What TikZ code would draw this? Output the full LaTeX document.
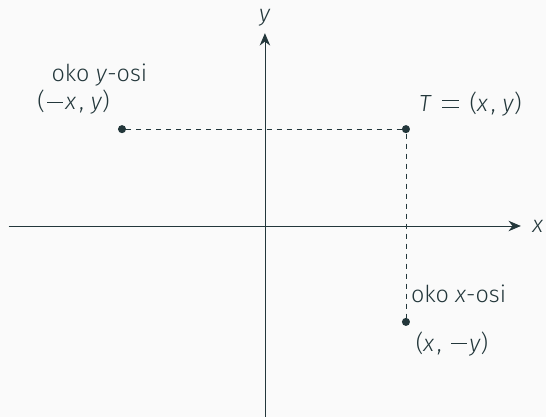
\documentclass[tikz,border=0pt]{standalone}
\usepackage{fontspec}
\setmainfont{Fira Sans Light}[ItalicFont={Fira Sans Light Italic}]
\usetikzlibrary{positioning,arrows.meta}
\definecolor{slate}{RGB}{35,55,59}
\definecolor{paper}{RGB}{250,250,250}
\newcommand{\vr}[1]{\textit{#1}}
\newcommand{\mn}{\kern0.1em\rule[0.3em]{0.68em}{0.045em}\kern0.1em}
\newcommand{\eqs}{\kern0.45em\rlap{\rule[0.13em]{0.72em}{0.045em}}\rule[0.42em]{0.72em}{0.045em}\kern0.45em}
\newcommand{\cm}{\kern0.12em,\kern0.3em}

\begin{document}
\begin{tikzpicture}[font=\fontsize{14}{16}\selectfont,color=slate,
  ax/.style={-{Stealth[length=2.6mm,width=2.2mm]},line width=0.5pt},
  pt/.style={circle,fill=slate,inner sep=0pt,minimum size=1.7mm},
  lab/.style={inner sep=1pt}]
  \fill[paper](-5.58,-4.02) rectangle (5.92,4.76);
  \useasboundingbox (-5.58,-4.02) rectangle (5.92,4.76);
  % axes
  \coordinate (xs) at (-5.4,0); \coordinate (xe) at (5.39,0);
  \coordinate (ys) at (0,-4.1); \coordinate (ye) at (0,4.06);
  \draw[ax](xs)--(xe); \draw[ax](ys)--(ye);
  \node[lab,right=0.2 of xe](xl){\vr{x}};
  \node[lab,above=0.1 of ye](yl){\vr{y}};
  % points
  \node[pt](T) at (2.97,2.04){};
  \node[pt](A) at (-3.01,2.04){};
  \node[pt](B) at (2.97,-2.02){};
  \draw[dashed](A)--(T)--(B);
  \node[lab,above right=0.17 and 0.17 of T](tl){\vr{T}\eqs(\vr{x}\cm\vr{y})};
  \node[lab,above left=0.2 and 0.15 of A](al){(\mn\vr{x}\cm\vr{y})};
  \node[lab,anchor=south west](ay) at ([xshift=0.3cm]al.north west){oko \vr{y}-osi};
  \node[lab,above right=0.3 and 0.0 of B](bx){oko \vr{x}-osi};
  \node[lab,below right=0.1 and 0.1 of B](bl){(\vr{x}\cm\mn\vr{y})};
\end{tikzpicture}
\end{document}
